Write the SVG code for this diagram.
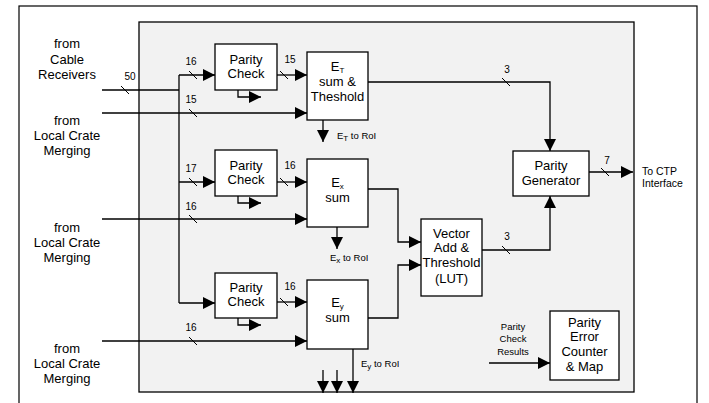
<svg xmlns="http://www.w3.org/2000/svg" width="709" height="403" viewBox="0 0 709 403">
<defs>
<marker id="ah" markerUnits="userSpaceOnUse" markerWidth="12" markerHeight="12" refX="12" refY="6" orient="auto">
<path d="M0,0 L12,6 L0,12 z" fill="#000"/>
</marker>
<style>
.box{fill:#fff;stroke:#000;stroke-width:1.3}
.ln{fill:none;stroke:#000;stroke-width:1.3}
.ar{fill:none;stroke:#000;stroke-width:1.3;marker-end:url(#ah)}
.sl{stroke:#000;stroke-width:1}
.t{font-family:"Liberation Sans",Arial,sans-serif;font-size:13px;text-anchor:middle;fill:#000}
.n{font-family:"Liberation Sans",Arial,sans-serif;font-size:10px;text-anchor:middle;fill:#000}
.s{font-family:"Liberation Sans",Arial,sans-serif;font-size:9.5px;fill:#000}
.sub{font-size:8px}
</style>
</defs>
<rect x="19" y="6" width="678" height="410" fill="#fff" stroke="#000" stroke-width="1.2"/>
<rect id="board" x="139" y="22" width="495" height="370" fill="#f2f2f2" stroke="#000" stroke-width="1.3"/>

<g id="labels-left">
<text class="t" x="67" y="48">from</text>
<text class="t" x="67" y="64">Cable</text>
<text class="t" x="67" y="79">Receivers</text>
<text class="t" x="67" y="125">from</text>
<text class="t" x="67" y="140">Local Crate</text>
<text class="t" x="67" y="155">Merging</text>
<text class="t" x="67" y="232">from</text>
<text class="t" x="67" y="247">Local Crate</text>
<text class="t" x="67" y="262">Merging</text>
<text class="t" x="67" y="353">from</text>
<text class="t" x="67" y="368">Local Crate</text>
<text class="t" x="67" y="383">Merging</text>
</g>

<g id="connectors">
<!-- cable input bus -->
<path class="ln" d="M102,90 H179"/>
<path class="ln" d="M179,75 V303"/>
<path class="ar" d="M179,75 H215"/>
<path class="ar" d="M179,182 H215"/>
<path class="ar" d="M179,303 H215"/>
<!-- local crate merging inputs -->
<path class="ar" d="M102,113 H307"/>
<path class="ar" d="M102,219 H307"/>
<path class="ar" d="M102,341 H307"/>
<!-- parity check outputs -->
<path class="ar" d="M277,75 H307"/>
<path class="ar" d="M277,182 H307"/>
<path class="ar" d="M277,302 H307"/>
<!-- parity check small outputs -->
<path class="ar" d="M238,90 V97 H261"/>
<path class="ar" d="M238,196 V203 H261"/>
<path class="ar" d="M238,318 V325 H261"/>
<!-- ET out -->
<path class="ar" d="M368,82 H550 V151"/>
<path class="ar" d="M323,120 V142"/>
<!-- Ex out -->
<path class="ar" d="M368,189 H398 V242 H421"/>
<path class="ar" d="M337,227 V249"/>
<!-- Ey out -->
<path class="ar" d="M368,318 H398 V265 H421"/>
<path class="ar" d="M353,349 V393"/>
<path class="ar" d="M323,370 V393"/>
<path class="ar" d="M337,370 V393"/>
<!-- VA out -->
<path class="ar" d="M482,250 H550 V196"/>
<!-- PG out -->
<path class="ar" d="M589,172 H633"/>
<!-- parity check results -->
<path class="ar" d="M489,363 H550"/>
<!-- slashes -->
<path class="sl" d="M121,86 L129,94"/>
<path class="sl" d="M189,71 L197,79"/>
<path class="sl" d="M189,109 L197,117"/>
<path class="sl" d="M280,71 L288,79"/>
<path class="sl" d="M502,78 L510,86"/>
<path class="sl" d="M189,178 L197,186"/>
<path class="sl" d="M189,215 L197,223"/>
<path class="sl" d="M280,178 L288,186"/>
<path class="sl" d="M189,337 L197,345"/>
<path class="sl" d="M280,298 L288,306"/>
<path class="sl" d="M502,246 L510,254"/>
<path class="sl" d="M601,168 L609,176"/>
<!-- bus width labels -->
<text class="n" x="130" y="80">50</text>
<text class="n" x="191" y="65">16</text>
<text class="n" x="191" y="103">15</text>
<text class="n" x="290" y="63">15</text>
<text class="n" x="507" y="73">3</text>
<text class="n" x="191" y="172">17</text>
<text class="n" x="191" y="210">16</text>
<text class="n" x="290" y="169">16</text>
<text class="n" x="191" y="331">16</text>
<text class="n" x="290" y="290">16</text>
<text class="n" x="507" y="240">3</text>
<text class="n" x="607" y="164">7</text>
<!-- RoI labels -->
<text class="s" x="337" y="139">E<tspan class="sub" dy="2">T</tspan><tspan dy="-2"> to RoI</tspan></text>
<text class="s" x="330" y="261">E<tspan class="sub" dy="2">x</tspan><tspan dy="-2"> to RoI</tspan></text>
<text class="s" x="361" y="367">E<tspan class="sub" dy="2">y</tspan><tspan dy="-2"> to RoI</tspan></text>
<text class="s" x="642" y="175" style="font-size:10.5px">To CTP</text>
<text class="s" x="642" y="187" style="font-size:10.5px">Interface</text>
<text class="s" x="513" y="330" text-anchor="middle">Parity</text>
<text class="s" x="513" y="342" text-anchor="middle">Check</text>
<text class="s" x="513" y="355" text-anchor="middle">Results</text>
</g>

<g id="pc1"><rect class="box" x="215" y="44" width="62" height="46"/>
<text class="t" x="246" y="64">Parity</text><text class="t" x="246" y="78">Check</text></g>
<g id="pc2"><rect class="box" x="215" y="150" width="62" height="46"/>
<text class="t" x="246" y="170">Parity</text><text class="t" x="246" y="184">Check</text></g>
<g id="pc3"><rect class="box" x="215" y="273" width="62" height="45"/>
<text class="t" x="246" y="292">Parity</text><text class="t" x="246" y="306">Check</text></g>

<g id="et"><rect class="box" x="307" y="52" width="61" height="68"/>
<text class="t" x="337.5" y="71">E<tspan class="sub" dy="2">T</tspan></text>
<text class="t" x="337.5" y="86">sum &amp;</text>
<text class="t" x="337.5" y="101">Theshold</text></g>

<g id="ex"><rect class="box" x="307" y="159" width="61" height="68"/>
<text class="t" x="337.5" y="187">E<tspan class="sub" dy="2">x</tspan></text>
<text class="t" x="337.5" y="202">sum</text></g>

<g id="ey"><rect class="box" x="307" y="280" width="61" height="69"/>
<text class="t" x="337.5" y="307">E<tspan class="sub" dy="2">y</tspan></text>
<text class="t" x="337.5" y="322">sum</text></g>

<g id="va"><rect class="box" x="421" y="219" width="61" height="77"/>
<text class="t" x="451.5" y="238">Vector</text>
<text class="t" x="451.5" y="252">Add &amp;</text>
<text class="t" x="451.5" y="267">Threshold</text>
<text class="t" x="451.5" y="283">(LUT)</text></g>

<g id="pg"><rect class="box" x="513" y="151" width="76" height="45"/>
<text class="t" x="551" y="170">Parity</text>
<text class="t" x="551" y="185">Generator</text></g>

<g id="pec"><rect class="box" x="550" y="311" width="69" height="69"/>
<text class="t" x="584.5" y="327">Parity</text>
<text class="t" x="584.5" y="341">Error</text>
<text class="t" x="584.5" y="356">Counter</text>
<text class="t" x="584.5" y="371">&amp; Map</text></g>
</svg>
